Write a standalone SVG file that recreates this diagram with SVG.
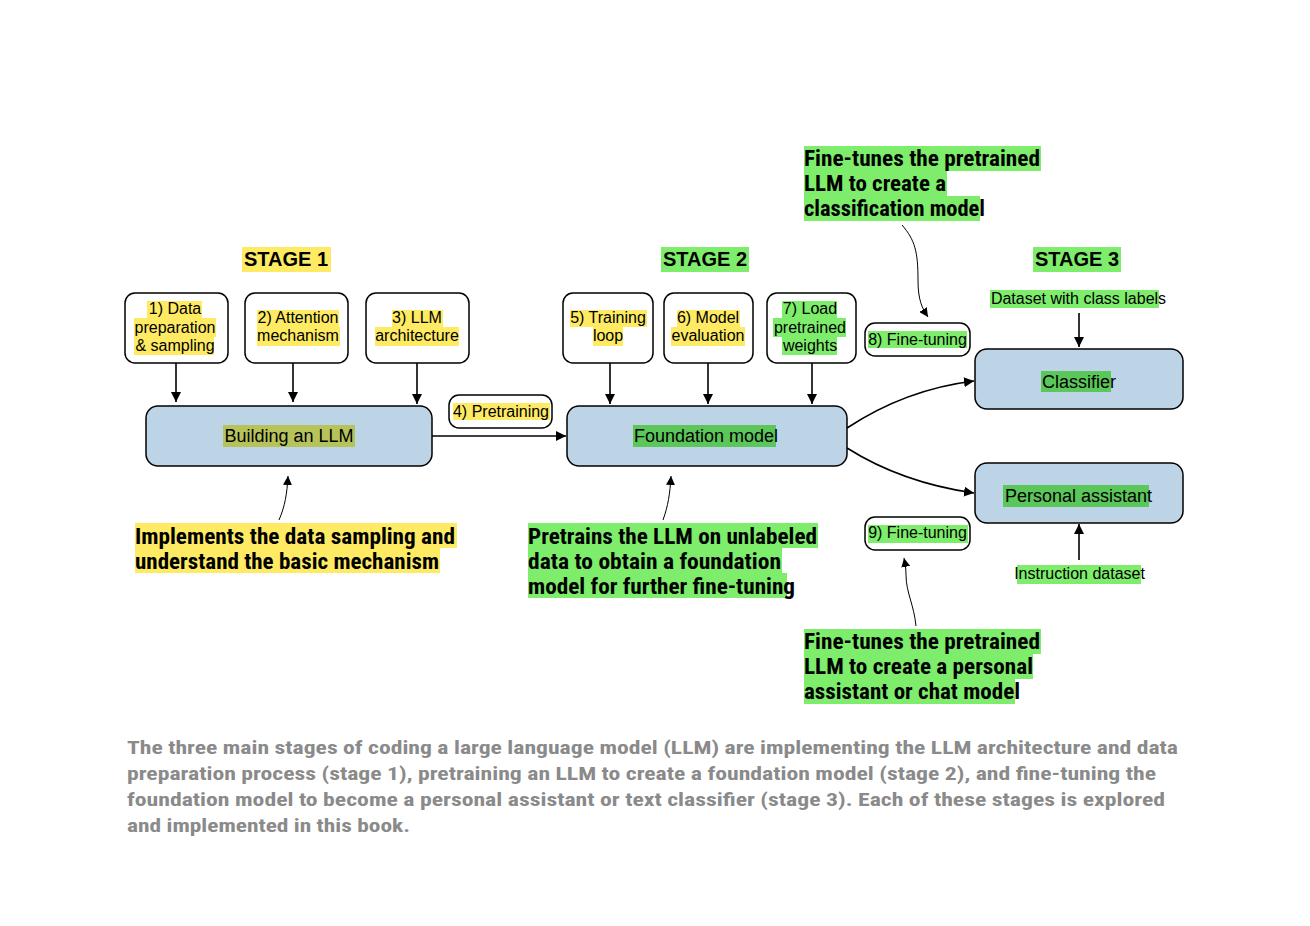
<svg xmlns="http://www.w3.org/2000/svg" width="1310" height="926" viewBox="0 0 1310 926">
<defs>
<style>
.box{fill:#fff;stroke:#000;stroke-width:1.5}
.main{fill:#bdd4e7;stroke:#000;stroke-width:1.5}
.t{font-family:"Liberation Sans",Arial,sans-serif;font-size:16px;fill:#000;text-anchor:middle}
.tb{font-family:"Liberation Sans",Arial,sans-serif;font-size:18px;fill:#000;text-anchor:middle}
.st{font-family:"Liberation Sans",Arial,sans-serif;font-size:20px;font-weight:bold;fill:#000}
.an{font-family:"Liberation Sans Narrow","Roboto Condensed","Liberation Sans",sans-serif;font-size:22px;font-weight:bold;fill:#000}
.cap{font-family:"Liberation Sans Narrow","Roboto Condensed","Liberation Sans",sans-serif;font-size:19px;font-weight:bold;fill:#8a8a8a}
.y{fill:#feeb63}
.g{fill:#7ded6b}
.dg{fill:#5bc65a}
.ol{fill:#b6c35a}
.ln{fill:none;stroke:#000;stroke-width:1.6}
.thin{fill:none;stroke:#000;stroke-width:1}
</style>
<marker id="ah" viewBox="0 0 10 10" refX="10" refY="5" markerWidth="10" markerHeight="10" markerUnits="userSpaceOnUse" orient="auto">
<path d="M0,0 L10,5 L0,10 z" fill="#000"/>
</marker>
<marker id="ahs" viewBox="0 0 10 10" refX="10" refY="5" markerWidth="9" markerHeight="9" markerUnits="userSpaceOnUse" orient="auto">
<path d="M0,0 L10,5 L0,10 z" fill="#000"/>
</marker>
</defs>
<rect width="1310" height="926" fill="#fff"/>

<g id="stage1">
<rect class="y" x="242" y="247" width="89" height="25"/>
<text class="st" x="244" y="266">STAGE 1</text>
</g>
<g id="stage2">
<rect class="g" x="661" y="247" width="88" height="25"/>
<text class="st" x="663" y="266">STAGE 2</text>
</g>
<g id="stage3">
<rect class="g" x="1033" y="247" width="88" height="25"/>
<text class="st" x="1035" y="266">STAGE 3</text>
</g>

<g id="n1">
<rect class="box" x="125" y="293" width="103" height="70" rx="10"/>
<rect class="y" x="147" y="301" width="55" height="17"/>
<rect class="y" x="134" y="318" width="82" height="19"/>
<rect class="y" x="134" y="337" width="80" height="18"/>
<text class="t" x="175" y="314">1) Data</text>
<text class="t" x="175" y="333">preparation</text>
<text class="t" x="175" y="351">&amp; sampling</text>
</g>
<g id="n2">
<rect class="box" x="245" y="293" width="103" height="70" rx="10"/>
<rect class="y" x="257" y="310" width="82" height="17"/>
<rect class="y" x="257" y="327" width="83" height="19"/>
<text class="t" x="298" y="323">2) Attention</text>
<text class="t" x="298" y="341">mechanism</text>
</g>
<g id="n3">
<rect class="box" x="366" y="293" width="103" height="70" rx="10"/>
<rect class="y" x="392" y="310" width="51" height="17"/>
<rect class="y" x="375" y="327" width="84" height="19"/>
<text class="t" x="417" y="323">3) LLM</text>
<text class="t" x="417" y="341">architecture</text>
</g>
<g id="build">
<rect class="main" x="146" y="406" width="286" height="60" rx="12"/>
<rect class="ol" x="223" y="425" width="132" height="22"/>
<text class="tb" x="289" y="442">Building an LLM</text>
</g>
<g id="n4">
<rect class="box" x="449" y="395" width="103" height="33" rx="10"/>
<rect class="y" x="453" y="403" width="97" height="17"/>
<text class="t" x="501" y="417">4) Pretraining</text>
</g>

<g id="n5">
<rect class="box" x="563" y="293" width="90" height="70" rx="10"/>
<rect class="y" x="570" y="310" width="77" height="17"/>
<rect class="y" x="593" y="327" width="30" height="19"/>
<text class="t" x="608" y="323">5) Training</text>
<text class="t" x="608" y="341">loop</text>
</g>
<g id="n6">
<rect class="box" x="664" y="293" width="89" height="70" rx="10"/>
<rect class="y" x="677" y="310" width="63" height="17"/>
<rect class="y" x="671" y="327" width="74" height="19"/>
<text class="t" x="708" y="323">6) Model</text>
<text class="t" x="708" y="341">evaluation</text>
</g>
<g id="n7">
<rect class="box" x="767" y="293" width="89" height="70" rx="10"/>
<rect class="g" x="782" y="301" width="55" height="17"/>
<rect class="g" x="773" y="318" width="73" height="19"/>
<rect class="g" x="782" y="337" width="55" height="18"/>
<text class="t" x="810" y="314">7) Load</text>
<text class="t" x="810" y="333">pretrained</text>
<text class="t" x="810" y="351">weights</text>
</g>
<g id="found">
<rect class="main" x="567" y="406" width="280" height="60" rx="12"/>
<rect class="dg" x="633" y="425" width="143" height="22"/>
<text class="tb" x="706" y="442">Foundation model</text>
</g>
<g id="n8">
<rect class="box" x="865" y="323" width="105" height="33" rx="10"/>
<rect class="g" x="868" y="331" width="99" height="17"/>
<text class="t" x="917.5" y="345">8) Fine-tuning</text>
</g>
<g id="n9">
<rect class="box" x="865" y="517" width="105" height="33" rx="10"/>
<rect class="g" x="868" y="525" width="100" height="18"/>
<text class="t" x="917.5" y="538">9) Fine-tuning</text>
</g>

<g id="classifier">
<rect class="main" x="975" y="349" width="208" height="60" rx="12"/>
<rect class="dg" x="1041" y="371" width="70" height="21"/>
<text class="tb" x="1079" y="388">Classifier</text>
</g>
<g id="assistant">
<rect class="main" x="975" y="463" width="208" height="60" rx="12"/>
<rect class="dg" x="1003" y="485" width="146" height="22"/>
<text class="tb" x="1078.5" y="502">Personal assistant</text>
</g>
<g id="dataset">
<rect class="g" x="990" y="290" width="169" height="18"/>
<text class="t" x="1078.5" y="304">Dataset with class labels</text>
</g>
<g id="instr">
<rect class="g" x="1017" y="565" width="124" height="19"/>
<text class="t" x="1079.5" y="579">Instruction dataset</text>
</g>

<g id="ann1">
<rect class="y" x="135" y="523" width="322" height="25"/>
<rect class="y" x="135" y="548" width="305" height="25"/>
<text class="an" x="135" y="544" textLength="320" lengthAdjust="spacingAndGlyphs">Implements the data sampling and</text>
<text class="an" x="135" y="569" textLength="304" lengthAdjust="spacingAndGlyphs">understand the basic mechanism</text>
</g>
<g id="ann2">
<rect class="g" x="528" y="523" width="290" height="25"/>
<rect class="g" x="528" y="548" width="254" height="25"/>
<rect class="g" x="528" y="573" width="259" height="25"/>
<text class="an" x="528" y="544" textLength="289" lengthAdjust="spacingAndGlyphs">Pretrains the LLM on unlabeled</text>
<text class="an" x="528" y="569" textLength="253" lengthAdjust="spacingAndGlyphs">data to obtain a foundation</text>
<text class="an" x="528" y="594" textLength="267" lengthAdjust="spacingAndGlyphs">model for further fine-tuning</text>
</g>
<g id="ann3">
<rect class="g" x="804" y="146" width="237" height="25"/>
<rect class="g" x="804" y="171" width="143" height="25"/>
<rect class="g" x="804" y="196" width="176" height="25"/>
<text class="an" x="804" y="166" textLength="236" lengthAdjust="spacingAndGlyphs">Fine-tunes the pretrained</text>
<text class="an" x="804" y="191" textLength="142" lengthAdjust="spacingAndGlyphs">LLM to create a</text>
<text class="an" x="804" y="216" textLength="181" lengthAdjust="spacingAndGlyphs">classification model</text>
</g>
<g id="ann4">
<rect class="g" x="804" y="629" width="237" height="25"/>
<rect class="g" x="804" y="654" width="229" height="25"/>
<rect class="g" x="804" y="679" width="211" height="25"/>
<text class="an" x="804" y="649" textLength="236" lengthAdjust="spacingAndGlyphs">Fine-tunes the pretrained</text>
<text class="an" x="804" y="674" textLength="229" lengthAdjust="spacingAndGlyphs">LLM to create a personal</text>
<text class="an" x="804" y="699" textLength="216" lengthAdjust="spacingAndGlyphs">assistant or chat model</text>
</g>

<g id="connectors">
<line class="ln" x1="176" y1="363" x2="176" y2="402" marker-end="url(#ah)"/>
<line class="ln" x1="293" y1="363" x2="293" y2="402" marker-end="url(#ah)"/>
<line class="ln" x1="417" y1="363" x2="417" y2="404" marker-end="url(#ah)"/>
<line class="ln" x1="432" y1="436" x2="566" y2="436" marker-end="url(#ah)"/>
<line class="ln" x1="610" y1="363" x2="610" y2="404" marker-end="url(#ah)"/>
<line class="ln" x1="708" y1="363" x2="708" y2="404" marker-end="url(#ah)"/>
<line class="ln" x1="812" y1="363" x2="812" y2="404" marker-end="url(#ah)"/>
<line class="ln" x1="1079" y1="313" x2="1079" y2="347" marker-end="url(#ah)"/>
<line class="ln" x1="1079" y1="560" x2="1079" y2="524" marker-end="url(#ah)"/>
<path class="ln" d="M847,428 C885,403 925,387 974,381" marker-end="url(#ah)"/>
<path class="ln" d="M847,448 C885,472 925,486 974,493" marker-end="url(#ah)"/>
<path class="thin" d="M279,520 C285,506 287,494 288,476" marker-end="url(#ahs)"/>
<path class="thin" d="M663,520 C668,506 670,494 671,476" marker-end="url(#ahs)"/>
<path class="thin" d="M902,225 C915,240 918,252 918,280 C918,300 922,308 928,317" marker-end="url(#ahs)"/>
<path class="thin" d="M916,626 C914,605 906,592 906,575 C906,568 905,563 904,558" marker-end="url(#ahs)"/>
</g>

<g id="caption">
<text class="cap" x="127" y="754" textLength="1051" lengthAdjust="spacingAndGlyphs">The three main stages of coding a large language model (LLM) are implementing the LLM architecture and data</text>
<text class="cap" x="127" y="780" textLength="1029" lengthAdjust="spacingAndGlyphs">preparation process (stage 1), pretraining an LLM to create a foundation model (stage 2), and fine-tuning the</text>
<text class="cap" x="127" y="806" textLength="1038" lengthAdjust="spacingAndGlyphs">foundation model to become a personal assistant or text classifier (stage 3). Each of these stages is explored</text>
<text class="cap" x="127" y="832" textLength="283" lengthAdjust="spacingAndGlyphs">and implemented in this book.</text>
</g>
</svg>
